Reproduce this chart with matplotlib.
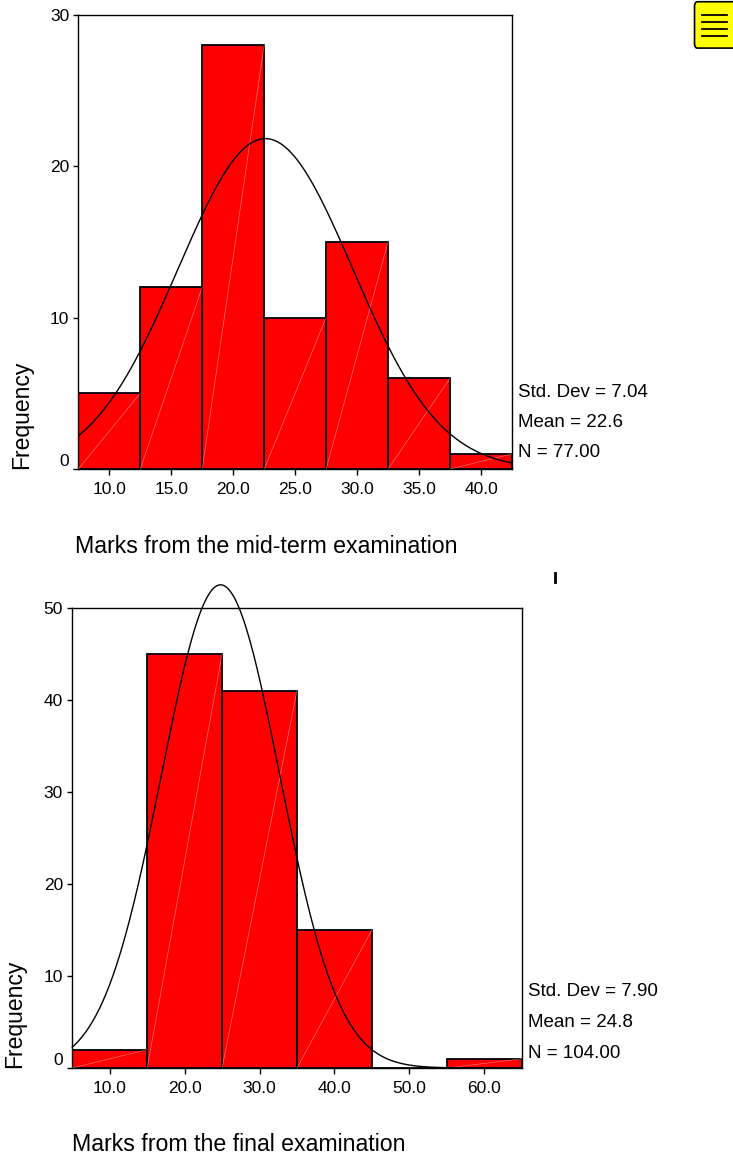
import matplotlib
import numpy as np
import matplotlib.pyplot as plt
import matplotlib.transforms as mtransforms
from matplotlib.patches import FancyBboxPatch
from matplotlib.lines import Line2D
matplotlib.use('Agg')

plt.rcParams['font.family'] = ['Liberation Sans', 'DejaVu Sans']

# mid-term histogram
mid_edges = [7.5, 12.5, 17.5, 22.5, 27.5, 32.5, 37.5, 42.5]
mid_counts = [5, 12, 28, 10, 15, 6, 1]
mid_ticks = [10, 15, 20, 25, 30, 35, 40]
mid_yticks = [0, 10, 20, 30]
mid_mean, mid_sd, mid_n = 22.6, 7.04, 77

# final histogram
fin_edges = [5, 15, 25, 35, 45, 55, 65]
fin_counts = [2, 45, 41, 15, 0, 1]
fin_ticks = [10, 20, 30, 40, 50, 60]
fin_yticks = [0, 10, 20, 30, 40, 50]
fin_mean, fin_sd, fin_n = 24.8, 7.90, 104


def histogram(ax, edges, counts, ticks, yticks, mean, sd, n, stats_y,
              clip_curve):
    edges = np.array(edges)
    widths = np.diff(edges)
    ax.bar(edges[:-1], counts, width=widths, align='edge', color='#ff0000',
           edgecolor='black', linewidth=1.3, zorder=2)
    # faint diagonal lines inside bars
    for x0, w, c in zip(edges[:-1], widths, counts):
        if c > 0:
            ax.plot([x0, x0 + w], [0, c], color='white', lw=0.5, alpha=0.45,
                    zorder=3)
    # normal curve
    xs = np.linspace(edges[0], edges[-1], 400)
    ys = n * widths[0] * np.exp(-0.5 * ((xs - mean) / sd) ** 2) / (sd * np.sqrt(2 * np.pi))
    ax.plot(xs, ys, color='black', lw=1.0, zorder=4, clip_on=clip_curve)

    ax.set_xlim(edges[0], edges[-1])
    ax.set_ylim(0, yticks[-1])
    ax.set_xticks(ticks)
    ax.set_xticklabels(['%.1f' % t for t in ticks], fontsize=12.5)
    ax.set_yticks(yticks)
    ax.set_yticklabels([str(t) for t in yticks], fontsize=12.5)
    ax.tick_params(axis='x', length=4.3, width=1, pad=5)
    ax.tick_params(axis='y', length=3.6, width=1, pad=3)
    for s in ax.spines.values():
        s.set_linewidth(1.0)
    # SPSS lifts the zero label a little
    zero = ax.get_yticklabels()[0]
    zero.set_transform(zero.get_transform() +
                       mtransforms.ScaledTranslation(0, 9 / 100, ax.figure.dpi_scale_trans))

    labels = ['Std. Dev = %.2f' % sd, 'Mean = %.1f' % mean, 'N = %.2f' % n]
    for lab, yy in zip(labels, stats_y):
        ax.annotate(lab, xy=(1, yy), xycoords=('axes fraction', 'data'),
                    xytext=(4.3, 0), textcoords='offset points',
                    fontsize=13.5, ha='left', va='center', annotation_clip=False)
    return ax


fig = plt.figure(figsize=(7.33, 11.59), dpi=100)

ax1 = fig.add_axes([0.1068, 0.5953, 0.5917, 0.3920])
histogram(ax1, mid_edges, mid_counts, mid_ticks, mid_yticks, mid_mean,
          mid_sd, mid_n, [5.03, 3.05, 1.06], True)
ax2 = fig.add_axes([0.0986, 0.0785, 0.6131, 0.3969])
histogram(ax2, fin_edges, fin_counts, fin_ticks, fin_yticks, fin_mean,
          fin_sd, fin_n, [8.3, 5.0, 1.55], False)

fig.text(0.0293, 0.5953, 'Frequency', rotation=90, fontsize=16.5, ha='center', va='bottom')
fig.text(0.0198, 0.0785, 'Frequency', rotation=90, fontsize=16.5, ha='center', va='bottom')
fig.text(0.103, 0.5229, 'Marks from the mid-term examination', fontsize=16.7, ha='left', va='baseline')
fig.text(0.098, 0.0069, 'Marks from the final examination', fontsize=16.7, ha='left', va='baseline')

# small mark between the charts
fig.add_artist(Line2D([0.7572, 0.7572], [0.4980, 0.5060], color='black', lw=2))

# yellow note icon in top right corner
icon = FancyBboxPatch((0.9475, 0.9585), 0.06, 0.040, boxstyle='round,pad=0,rounding_size=0.004',
                      transform=fig.transFigure, facecolor='#ffff00', edgecolor='black', lw=1.2)
fig.add_artist(icon)
for yy in [0.9870, 0.9810, 0.9750, 0.9690]:
    fig.add_artist(Line2D([0.958, 0.992], [yy, yy], color='black', lw=1.3))

fig.savefig('out.png', dpi=100)
